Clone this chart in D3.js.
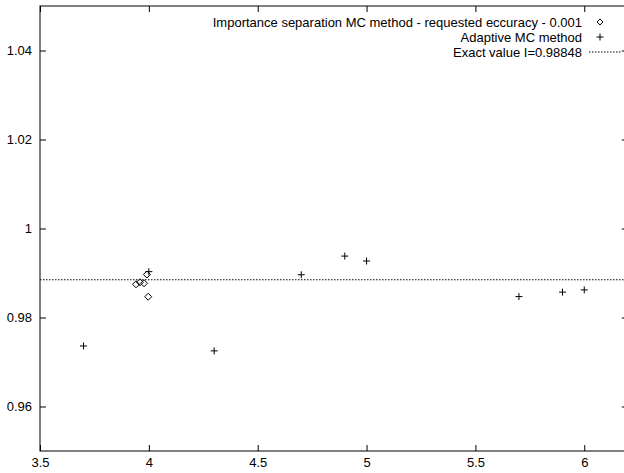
<!DOCTYPE html>
<html>
<head>
<meta charset="utf-8">
<script src="https://cdn.jsdelivr.net/npm/d3@7"></script>
<style>
  html, body { margin: 0; padding: 0; background: #fff; }
  svg { display: block; }
  text { font-family: "Liberation Sans", Arial, Helvetica, sans-serif; font-size: 13px; fill: #000; }
</style>
</head>
<body>
<svg id="chart" width="624" height="473"></svg>
<script>
// Importance separation MC estimates (diamonds)
const importanceX = [3.941, 3.959, 3.978, 3.991, 3.997];
const importanceY = [0.98746, 0.98791, 0.98769, 0.98966, 0.98467];

// Adaptive MC estimates (plus marks)
const adaptiveX = [3.7, 4.0, 4.3, 4.7, 4.9, 5.0, 5.7, 5.9, 6.0];
const adaptiveY = [0.9736, 0.9903, 0.9725, 0.9896, 0.9938, 0.9927, 0.9847, 0.9857, 0.9862];

// Exact value of the integral
const exactValue = 0.98848;

// Axis ticks
const xTicks = [3.5, 4, 4.5, 5, 5.5, 6];
const xTickLabels = ["3.5", "4", "4.5", "5", "5.5", "6"];
const yTicks = [0.96, 0.98, 1, 1.02, 1.04];
const yTickLabels = ["0.96", "0.98", "1", "1.02", "1.04"];

const legendLabels = [
  "Importance separation MC method - requested eccuracy - 0.001",
  "Adaptive MC method",
  "Exact value I=0.98848"
];

const svg = d3.select("#chart");
const plotLeft = 40, plotRight = 627.8, plotTop = 6, plotBottom = 451;

const x = d3.scaleLinear().domain([3.5, 6.2]).range([plotLeft, plotRight]);
const y = d3.scaleLinear().domain([0.95, 1.05]).range([plotBottom, plotTop]);

// Frame
svg.append("rect")
  .attr("x", plotLeft).attr("y", plotTop)
  .attr("width", plotRight - plotLeft).attr("height", plotBottom - plotTop)
  .attr("fill", "none").attr("stroke", "#000").attr("stroke-width", 1);

function styleAxis(g, showText) {
  g.select(".domain").remove();
  g.selectAll("line").attr("stroke", "#000").attr("stroke-width", 1);
  if (!showText) g.selectAll("text").remove();
  else g.selectAll("text").style("font-size", "13px").attr("fill", "#000");
}

// Bottom axis
svg.append("g").attr("transform", `translate(0,${plotBottom})`)
  .call(d3.axisBottom(x).tickValues(xTicks)
    .tickFormat((d, i) => xTickLabels[i]).tickSizeInner(-6).tickSizeOuter(0).tickPadding(7))
  .call(g => styleAxis(g, true));

// Top axis (mirror ticks)
svg.append("g").attr("transform", `translate(0,${plotTop})`)
  .call(d3.axisTop(x).tickValues(xTicks).tickSizeInner(-6).tickSizeOuter(0))
  .call(g => styleAxis(g, false));

// Left axis
svg.append("g").attr("transform", `translate(${plotLeft},0)`)
  .call(d3.axisLeft(y).tickValues(yTicks)
    .tickFormat((d, i) => yTickLabels[i]).tickSizeInner(-6).tickSizeOuter(0).tickPadding(8))
  .call(g => styleAxis(g, true));

// Right axis (mirror ticks)
svg.append("g").attr("transform", `translate(${plotRight},0)`)
  .call(d3.axisRight(y).tickValues(yTicks).tickSizeInner(-6).tickSizeOuter(0))
  .call(g => styleAxis(g, false));

// Exact value line
svg.append("line")
  .attr("x1", plotLeft).attr("x2", plotRight)
  .attr("y1", y(exactValue)).attr("y2", y(exactValue))
  .attr("stroke", "#000").attr("stroke-width", 1)
  .attr("stroke-dasharray", "1.5,1.5");

const diamond = (cx, cy, r) => `M${cx},${cy - r}L${cx + r},${cy}L${cx},${cy + r}L${cx - r},${cy}Z`;
const plus = (cx, cy, r) => `M${cx - r},${cy}H${cx + r}M${cx},${cy - r}V${cy + r}`;

// Importance separation points
svg.append("g").selectAll("path")
  .data(d3.zip(importanceX, importanceY))
  .join("path")
  .attr("d", d => diamond(x(d[0]), y(d[1]), 3.5))
  .attr("fill", "none").attr("stroke", "#000").attr("stroke-width", 1);

// Adaptive MC points
svg.append("g").selectAll("path")
  .data(d3.zip(adaptiveX, adaptiveY))
  .join("path")
  .attr("d", d => plus(x(d[0]), y(d[1]), 3.5))
  .attr("fill", "none").attr("stroke", "#000").attr("stroke-width", 1);

// Legend
const legend = svg.append("g");
const legendY = [22, 37, 52];
legend.selectAll("text")
  .data(legendLabels)
  .join("text")
  .attr("x", 582).attr("y", (d, i) => legendY[i])
  .attr("dy", "0.35em")
  .attr("text-anchor", "end")
  .text(d => d);
legend.append("path").attr("d", diamond(600, legendY[0], 3))
  .attr("fill", "none").attr("stroke", "#000");
legend.append("path").attr("d", plus(600, legendY[1], 3.5))
  .attr("fill", "none").attr("stroke", "#000");
legend.append("line")
  .attr("x1", 589).attr("x2", 621)
  .attr("y1", legendY[2]).attr("y2", legendY[2])
  .attr("stroke", "#000").attr("stroke-dasharray", "1.5,1.5");
</script>
</body>
</html>
